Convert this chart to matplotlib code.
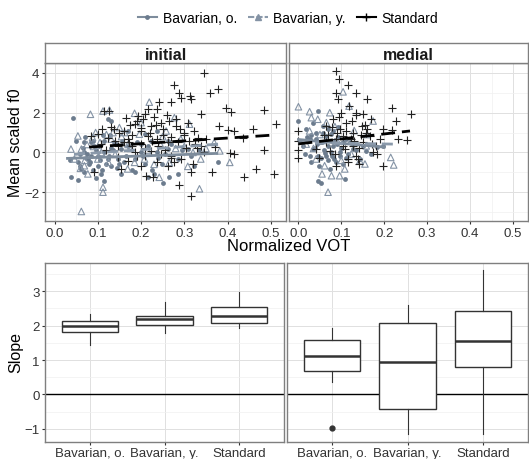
import matplotlib
matplotlib.use("Agg")
import matplotlib.pyplot as plt
from matplotlib.lines import Line2D

plt.rcParams['font.family'] = ['Liberation Sans', 'DejaVu Sans']

groups = ["Bavarian, o.", "Bavarian, y.", "Standard"]
positions_names = ["initial", "medial"]

# ---------------- scatter data: initial ----------------
ini_std_x = [0.346,0.277,0.288,0.292,0.312,0.315,0.36,0.378,0.242,0.269,0.215,0.238,0.338,0.396,0.408,0.485,0.512,0.458,0.435,0.485,
             0.4,0.415,0.38,0.35,0.37,0.405,0.415,0.365,0.315,0.319,0.315,0.288,0.438,0.465,0.508,0.212,0.227,0.146,0.154,0.169,
             0.092,0.085,0.108,0.123,0.1,0.115,0.127,0.165,0.192,0.208,0.185,0.2,0.223,0.246,0.265,0.28,0.308,0.323,0.215,0.238,
             0.262,0.2,0.173,0.223,0.246,0.269,0.292,0.185,0.238,0.262,0.2,0.146,0.138,0.338,0.346,0.331,
             0.12,0.15,0.18,0.25,0.3,0.27,0.21,0.33,
             0.13,0.16,0.19,0.22,0.25,0.28,0.31,0.17,0.2,0.23,0.26,0.29,0.14,0.18,0.21,0.24,0.27,0.3,0.11,0.16,
             0.19,0.225,0.255,0.285,0.235,0.205,0.175,0.275,0.305,0.325]
ini_std_y = [4.0,3.37,3.0,2.75,2.83,2.67,3.0,3.17,2.53,2.53,2.17,2.17,1.92,2.22,2.03,2.12,1.42,1.17,0.72,0.12,
             1.13,1.08,1.33,0.67,0.25,-0.05,-0.08,-1.0,-1.0,-0.58,-2.17,-1.63,-1.25,-0.83,-1.08,-1.17,-1.25,-0.25,-0.83,-0.42,
             -1.0,0.83,0.42,0.75,0.92,2.08,2.08,1.75,1.83,1.92,1.42,1.25,1.33,1.5,1.58,1.33,1.5,1.08,0.83,0.67,
             0.5,0.42,0.5,0.08,-0.08,-0.17,-0.33,0.0,-0.5,-0.67,-0.67,0.33,1.17,0.33,0.0,0.75,
             0.1,1.0,0.9,1.2,0.9,-0.3,-0.2,0.2,
             1.3,1.1,1.6,1.0,0.9,1.7,0.6,0.7,1.1,1.8,1.9,1.2,0.6,0.3,0.2,0.3,0.8,1.0,1.2,0.5,
             -0.2,0.6,0.1,0.5,1.4,1.7,1.4,-0.5,0.2,0.4]
ini_by_x = [0.062,0.112,0.112,0.335,0.242,0.308,0.405,0.382,0.219,0.083,0.112,0.127,0.185,0.15,0.062,0.046,0.069,0.1,0.088,0.131,
            0.162,0.196,0.258,0.277,0.312,0.292,0.265,0.208,0.169,0.338,0.369,0.077,0.054,0.038,0.108,
            0.09,0.14,0.17,0.23,0.28,0.07,0.12,0.2,0.25,0.32,
            0.095,0.105,0.135,0.155,0.175,0.215,0.245,0.075,0.06,0.125,0.185,0.3,0.35]
ini_by_y = [-2.97,-1.75,-2.0,-1.83,-1.25,-0.7,-0.5,0.08,2.53,1.92,2.08,2.13,1.97,1.25,0.17,-0.33,-0.67,-0.33,0.75,0.67,
            1.0,0.92,1.08,1.75,1.42,0.67,-0.5,-0.33,-0.83,-0.33,0.5,-1.08,0.83,0.17,0.0,
            0.3,-0.1,0.4,-0.6,0.2,-0.4,0.9,1.5,0.8,0.0,
            1.0,0.5,1.0,0.8,0.2,0.1,0.4,0.4,-0.8,-0.5,-0.5,0.3,0.2]
ini_bo_x = [0.042,0.035,0.038,0.054,0.05,0.069,0.085,0.108,0.115,0.123,0.131,0.138,0.154,0.185,0.215,0.231,0.25,0.265,0.285,0.377,
            0.323,0.185,0.2,0.154,0.062,0.077,0.092,0.1,0.115,0.146,0.169,0.215,0.238,0.262,0.285,0.308,0.169,0.208,0.238,0.262,
            0.069,0.054,0.131,0.123,0.06,0.08,0.1,0.13,0.16,0.21,0.24,0.11,0.09,0.07,
            0.065,0.075,0.085,0.095,0.105,0.115,0.125,0.135,0.145,0.155,0.058,0.072,0.088,0.102,0.118,0.128,0.142,0.165,0.178,0.19,
            0.205,0.222,0.248,0.27,0.295,0.315,0.335,0.097,0.113,0.082,0.067,0.15,0.2,0.226,0.255]
ini_bo_y = [1.72,-0.38,-1.22,-1.37,0.58,0.5,-0.17,-1.08,-1.42,1.67,1.58,0.5,-1.08,-1.0,-1.25,-1.08,-1.53,-1.25,-1.08,-0.5,
            -0.67,-0.33,0.0,0.17,-0.83,-0.33,0.33,-0.67,0.0,-0.33,0.33,0.33,0.0,0.17,-0.33,0.17,1.08,0.92,1.08,0.58,
            0.0,-0.5,-0.67,-0.33,-0.1,-0.6,-0.2,0.2,-0.5,-0.6,-0.3,-0.9,0.6,0.8,
            0.2,-0.1,0.5,0.1,-0.4,0.6,-0.2,0.1,-0.8,0.6,-0.7,-0.3,-0.9,0.3,-0.6,0.9,0.4,-0.2,-0.9,0.5,
            -0.2,0.6,-0.6,0.4,0.1,-0.2,0.1,-1.3,0.9,-0.5,-1.0,-0.6,0.4,-0.9,-0.1]

# ---------------- scatter data: medial ----------------
med_std_x = [0.088,0.095,0.116,0.087,0.134,0.092,0.16,0.118,0.217,0.262,0.135,0.15,0.227,0.198,0.219,0.233,0.252,0.198,0.0,0.0,
             0.0,0.0,0.049,0.088,0.116,0.134,0.174,0.181,0.065,0.088,0.104,0.127,0.147,0.112,0.08,0.065,0.1,0.108,0.151,0.166,
             0.073,0.041,0.127,0.139,0.182,0.11,0.09,0.07,0.13,0.16,
             0.078,0.098,0.122,0.142,0.158,0.172,0.105,0.085,0.125,0.145,0.17,0.19,0.115,0.095,0.135,0.155,0.06,0.14]
med_std_y = [4.08,3.67,3.37,2.97,2.97,2.67,2.67,2.33,2.25,1.92,2.0,1.92,1.58,1.2,1.12,0.67,0.63,-0.7,1.08,0.58,
             0.13,-0.28,-0.3,-0.67,-0.33,-0.17,0.0,0.33,0.5,0.67,0.83,1.0,1.33,1.5,1.67,1.33,2.0,0.17,0.5,0.83,
             0.08,0.17,0.33,-0.33,-0.08,1.1,1.0,0.9,0.6,1.2,
             1.3,1.2,0.7,0.2,1.0,0.4,0.3,-0.1,1.6,0.9,1.7,0.7,-0.5,1.8,1.9,1.4,0.9,-0.6]
med_by_x = [0.0,0.026,0.104,0.118,0.073,0.03,0.045,0.174,0.215,0.222,0.069,0.055,0.077,0.096,0.108,0.143,0.155,0.026,0.018,0.041,
            0.061,0.123,0.158,0.05,0.09,0.13,0.035,0.085,0.1,0.16,0.065]
med_by_y = [2.3,2.05,3.05,2.33,2.0,1.75,1.67,1.58,-0.25,-0.63,-2.0,-1.08,-1.17,-1.17,-0.83,-0.42,-0.58,1.08,0.42,-0.33,
            -0.67,-0.08,0.33,0.9,0.6,1.1,0.2,1.3,-0.4,0.9,1.5]
med_bo_x = [0.0,0.045,0.045,0.053,0.108,0.018,0.026,0.034,0.045,0.049,0.065,0.065,0.08,0.084,0.096,0.104,0.116,0.127,0.143,0.158,
            0.182,0.198,0.026,0.01,0.057,0.073,0.041,0.034,0.06,0.07,0.09,0.05,0.11,0.03,0.08,
            0.02,0.038,0.052,0.062,0.075,0.088,0.1,0.112,0.03,0.044,0.058,0.068,0.078,0.092,0.105,0.12,0.135,0.015,0.055,0.07,
            0.085,0.098,0.04,0.063,0.076,0.093,0.125,0.15,0.17]
med_bo_y = [1.58,2.08,-1.45,-1.53,-1.33,1.17,0.67,0.17,-0.17,-0.67,0.83,-0.17,0.33,-0.33,0.0,0.5,-0.08,0.17,-0.33,0.08,
            0.25,0.3,-0.17,0.33,1.33,-0.83,0.67,1.5,0.1,-0.4,0.4,0.5,0.7,0.9,1.1,
            0.8,0.2,-0.3,0.6,0.0,-0.5,0.2,-0.3,-0.5,0.4,1.0,0.3,-0.2,0.8,-0.6,0.5,0.1,-0.1,0.55,1.2,
            0.65,-0.2,1.0,-0.05,0.95,1.3,0.4,0.3,-0.1]

# fitted line endpoints
ini_fit = {"Bavarian, o.": ([0.03, 0.375], [-0.3, -0.05]),
           "Bavarian, y.": ([0.045, 0.38], [-0.1, 0.42]),
           "Standard": ([0.08, 0.51], [0.27, 0.88])}
med_fit = {"Bavarian, o.": ([0.0, 0.2], [0.65, 0.27]),
           "Bavarian, y.": ([0.0, 0.22], [0.5, 0.42]),
           "Standard": ([0.0, 0.26], [0.43, 1.08])}

# ---------------- boxplot stats (slopes) ----------------
ini_whislo = [1.43, 1.80, 1.93]
ini_q1 = [1.82, 2.02, 2.09]
ini_med = [1.98, 2.18, 2.27]
ini_q3 = [2.13, 2.29, 2.54]
ini_whishi = [2.34, 2.68, 2.97]
ini_fliers = [[], [], []]
med_whislo = [0.37, -1.15, -1.14]
med_q1 = [0.68, -0.41, 0.80]
med_med = [1.13, 0.95, 1.55]
med_q3 = [1.59, 2.07, 2.44]
med_whishi = [1.92, 2.60, 3.61]
med_fliers = [[-0.97], [], []]

# ---------------- styling ----------------
col_bo = "#6c7c8e"
col_by = "#8493a5"
col_line_bo = "#7d8c9c"
col_line_by = "#8a99aa"
border = "#7f7f7f"
grid_major = "#e0e0e0"
grid_minor = "#f0f0f0"
tick_col = "#333333"

fig = plt.figure(figsize=(5.29, 4.6), dpi=100)
W, H = 529.0, 460.0

def ax_at(x0, y0, x1, y1):
    return fig.add_axes([x0 / W, 1 - y1 / H, (x1 - x0) / W, (y1 - y0) / H])

def style(ax):
    for s in ax.spines.values():
        s.set_color(border)
        s.set_linewidth(1.0)
    ax.set_facecolor("white")
    ax.grid(True, which="major", color=grid_major, lw=0.7, zorder=0)
    ax.grid(True, which="minor", color=grid_minor, lw=0.5, zorder=0)
    ax.set_axisbelow(True)
    ax.tick_params(which="major", length=2.5, color=tick_col, labelsize=9.5, labelcolor=tick_col, pad=1.5)
    ax.tick_params(which="minor", length=0)

top_axes = [ax_at(45, 64, 286, 222), ax_at(289, 64, 528, 222)]
strip_axes = [ax_at(45, 44, 286, 64), ax_at(289, 44, 528, 64)]

data_sets = [
    (ini_bo_x, ini_bo_y, ini_by_x, ini_by_y, ini_std_x, ini_std_y, ini_fit),
    (med_bo_x, med_bo_y, med_by_x, med_by_y, med_std_x, med_std_y, med_fit),
]

for i, ax in enumerate(top_axes):
    bo_x, bo_y, by_x, by_y, st_x, st_y, fit = data_sets[i]
    style(ax)
    ax.scatter(bo_x, bo_y, s=12, color=col_bo, marker="o", linewidths=0, zorder=3)
    ax.scatter(by_x, by_y, s=22, facecolors="none", edgecolors=col_by, marker="^", linewidths=0.8, zorder=3)
    ax.scatter(st_x, st_y, s=30, color="#222222", marker="+", linewidths=0.8, zorder=3)
    ax.plot(*fit["Bavarian, o."], color=col_line_bo, lw=2.0, zorder=4)
    ax.plot(*fit["Bavarian, y."], color=col_line_by, lw=2.0, ls=(0, (4, 2)), zorder=4)
    ax.plot(*fit["Standard"], color="black", lw=2.0, ls=(0, (5, 2.5)), zorder=5)
    ax.set_xlim(-0.022, 0.535)
    ax.set_ylim(-3.45, 4.5)
    ax.set_xticks([0.0, 0.1, 0.2, 0.3, 0.4, 0.5])
    ax.set_xticks([0.05, 0.15, 0.25, 0.35, 0.45], minor=True)
    ax.set_yticks([-2, 0, 2, 4])
    ax.set_yticks([-3, -1, 1, 3], minor=True)
    if i == 1:
        ax.tick_params(axis="y", labelleft=False, length=0)

for i, sax in enumerate(strip_axes):
    sax.set_xticks([]); sax.set_yticks([])
    for s in sax.spines.values():
        s.set_color(border); s.set_linewidth(1.0)
    sax.text(0.5, 0.45, positions_names[i], ha="center", va="center", fontsize=11.5, fontweight="bold",
             transform=sax.transAxes, color="#1a1a1a")

fig.text(289 / W, 1 - 247 / H, "Normalized VOT", ha="center", va="center", fontsize=12)
fig.text(16 / W, 1 - 143 / H, "Mean scaled f0", ha="center", va="center", rotation=90, fontsize=11.5)
fig.text(16 / W, 1 - 353 / H, "Slope", ha="center", va="center", rotation=90, fontsize=11.5)

bot_axes = [ax_at(45, 264, 284, 443), ax_at(287, 264, 528, 443)]
box_sets = [
    (ini_whislo, ini_q1, ini_med, ini_q3, ini_whishi, ini_fliers),
    (med_whislo, med_q1, med_med, med_q3, med_whishi, med_fliers),
]
for i, ax in enumerate(bot_axes):
    style(ax)
    wl, q1, md, q3, wh, fl = box_sets[i]
    stats = [dict(whislo=wl[k], q1=q1[k], med=md[k], q3=q3[k], whishi=wh[k], fliers=fl[k], label=groups[k])
             for k in range(3)]
    ax.axhline(0, color="black", lw=1.0, zorder=2)
    ax.bxp(stats, positions=[1, 2, 3], widths=0.75, showcaps=False, patch_artist=True,
           boxprops=dict(facecolor="white", edgecolor="#333333", lw=1.0),
           medianprops=dict(color="#333333", lw=1.8),
           whiskerprops=dict(color="#333333", lw=0.8),
           flierprops=dict(marker="o", markerfacecolor="#333333", markeredgecolor="#333333", markersize=3.5),
           zorder=3)
    ax.set_xlim(0.4, 3.6)
    ax.set_ylim(-1.38, 3.82)
    ax.set_xticks([1, 2, 3])
    ax.set_xticklabels(groups)
    ax.tick_params(axis="x", labelsize=9.5, pad=1.0)
    ax.set_yticks([-1, 0, 1, 2, 3])
    ax.set_yticks([-0.5, 0.5, 1.5, 2.5, 3.5], minor=True)
    if i == 1:
        ax.tick_params(axis="y", labelleft=False, length=0)

handles = [
    Line2D([], [], color=col_line_bo, lw=1.5, marker="o", markersize=3.5, markerfacecolor=col_bo, markeredgewidth=0),
    Line2D([], [], color=col_line_by, lw=1.5, ls=(0, (3, 1)), marker="^", markersize=4.5, markerfacecolor=col_by,
           markeredgecolor=col_by),
    Line2D([], [], color="black", lw=1.5, marker="+", markersize=6, markeredgewidth=1.0),
]
fig.legend(handles, groups, loc="center", bbox_to_anchor=(288 / W, 1 - 19 / H), ncol=3, frameon=False,
           fontsize=10, handlelength=1.4, handletextpad=0.4, columnspacing=0.8)

fig.savefig("out.png", dpi=100)
